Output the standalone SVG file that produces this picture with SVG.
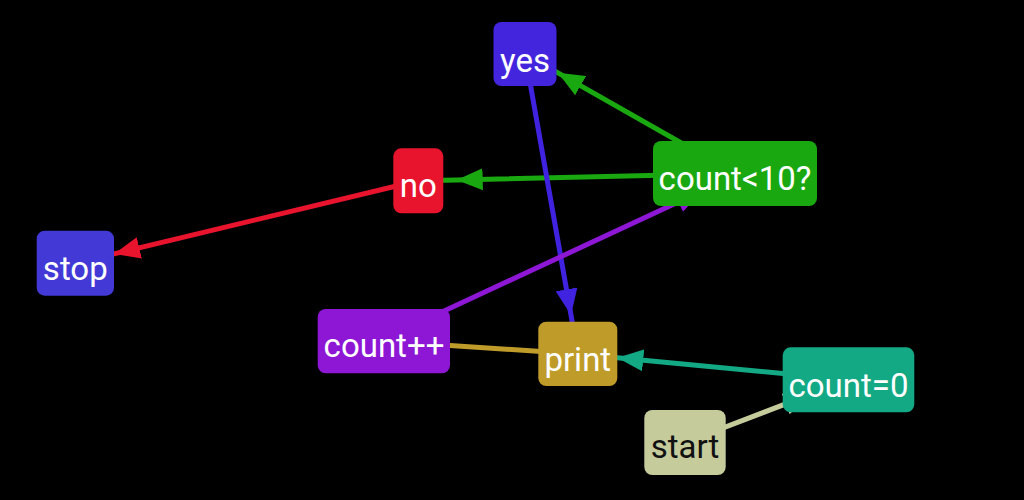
<svg xmlns="http://www.w3.org/2000/svg" width="1024" height="500" viewBox="0 0 1024 500">
<style>
.edge{fill:none;stroke-width:5;stroke-linecap:butt}
.box{stroke:none}
.lbl{font-family:Roboto,"Liberation Sans",sans-serif;font-size:33px;fill:#ffffff;text-anchor:middle}
.dark{fill:#111111}
</style>
<defs>
<marker id="mGreen" viewBox="0 0 26 22" refX="26" refY="11" markerWidth="26" markerHeight="22" markerUnits="userSpaceOnUse" orient="auto"><path d="M0,0 L26,11 L0,22 z" fill="#1aa810"/></marker>
<marker id="mRed" viewBox="0 0 26 22" refX="26" refY="11" markerWidth="26" markerHeight="22" markerUnits="userSpaceOnUse" orient="auto"><path d="M0,0 L26,11 L0,22 z" fill="#e8142d"/></marker>
<marker id="mBlue" viewBox="0 0 26 22" refX="26" refY="11" markerWidth="26" markerHeight="22" markerUnits="userSpaceOnUse" orient="auto"><path d="M0,0 L26,11 L0,22 z" fill="#4023e0"/></marker>
<marker id="mPurple" viewBox="0 0 26 22" refX="26" refY="11" markerWidth="26" markerHeight="22" markerUnits="userSpaceOnUse" orient="auto"><path d="M0,0 L26,11 L0,22 z" fill="#8e17d6"/></marker>
<marker id="mGold" viewBox="0 0 26 22" refX="26" refY="11" markerWidth="26" markerHeight="22" markerUnits="userSpaceOnUse" orient="auto"><path d="M0,0 L26,11 L0,22 z" fill="#bf9c2a"/></marker>
<marker id="mTeal" viewBox="0 0 26 22" refX="26" refY="11" markerWidth="26" markerHeight="22" markerUnits="userSpaceOnUse" orient="auto"><path d="M0,0 L26,11 L0,22 z" fill="#13a985"/></marker>
<marker id="mKhaki" viewBox="0 0 26 22" refX="26" refY="11" markerWidth="26" markerHeight="22" markerUnits="userSpaceOnUse" orient="auto"><path d="M0,0 L26,11 L0,22 z" fill="#c6cb9c"/></marker>
</defs>
<rect x="0" y="0" width="1024" height="500" fill="#000000"/>
<g id="connectors">
<path class="edge" stroke="#1aa810" marker-mid="url(#mGreen)" d="M735,173.5 L558,72.8 L525,54"/>
<path class="edge" stroke="#1aa810" marker-mid="url(#mGreen)" d="M735,173.5 L456.7,179.9 L418.3,180.8"/>
<path class="edge" stroke="#e8142d" marker-mid="url(#mRed)" d="M418.3,180.8 L114,253.9 L75.3,263.2"/>
<path class="edge" stroke="#4023e0" marker-mid="url(#mBlue)" d="M525,54 L571,315 L577.8,354"/>
<path class="edge" stroke="#8e17d6" marker-mid="url(#mPurple)" d="M384,339 L702,191 L735,176"/>
<path class="edge" stroke="#bf9c2a" marker-mid="url(#mGold)" d="M578,354 L420,343.5 L384,341"/>
<path class="edge" stroke="#13a985" marker-mid="url(#mTeal)" d="M848.5,379.8 L617.3,357.8 L577.8,354"/>
<path class="edge" stroke="#c6cb9c" marker-mid="url(#mKhaki)" d="M685,442.5 L810,394.6 L848.5,379.8"/>
</g>
<g id="node-yes"><rect class="box" x="493.5" y="22" width="63" height="64" rx="8" fill="#4425de"/><text class="lbl" x="525" y="71.5">yes</text></g>
<g id="node-cond"><rect class="box" x="653" y="141" width="164" height="65" rx="8" fill="#1aa810"/><text class="lbl" x="735" y="190">count&lt;10?</text></g>
<g id="node-no"><rect class="box" x="393.3" y="148.3" width="50" height="65" rx="8" fill="#e8142d"/><text class="lbl" x="418.3" y="197">no</text></g>
<g id="node-stop"><rect class="box" x="36.7" y="230.7" width="77.3" height="65" rx="8" fill="#4239d6"/><text class="lbl" x="75.3" y="280">stop</text></g>
<g id="node-inc"><rect class="box" x="317.7" y="309" width="132.3" height="64.3" rx="8" fill="#8e17d6"/><text class="lbl" x="384" y="357">count++</text></g>
<g id="node-print"><rect class="box" x="538.3" y="321.7" width="79" height="64.3" rx="8" fill="#bf9c2a"/><text class="lbl" x="577.8" y="370.5">print</text></g>
<g id="node-init"><rect class="box" x="782.7" y="347.3" width="131.6" height="65" rx="8" fill="#13a985"/><text class="lbl" x="848.5" y="396.5">count=0</text></g>
<g id="node-start"><rect class="box" x="644.3" y="410" width="81.4" height="65" rx="8" fill="#c6cb9c"/><text class="lbl dark" x="685" y="458">start</text></g>
</svg>
